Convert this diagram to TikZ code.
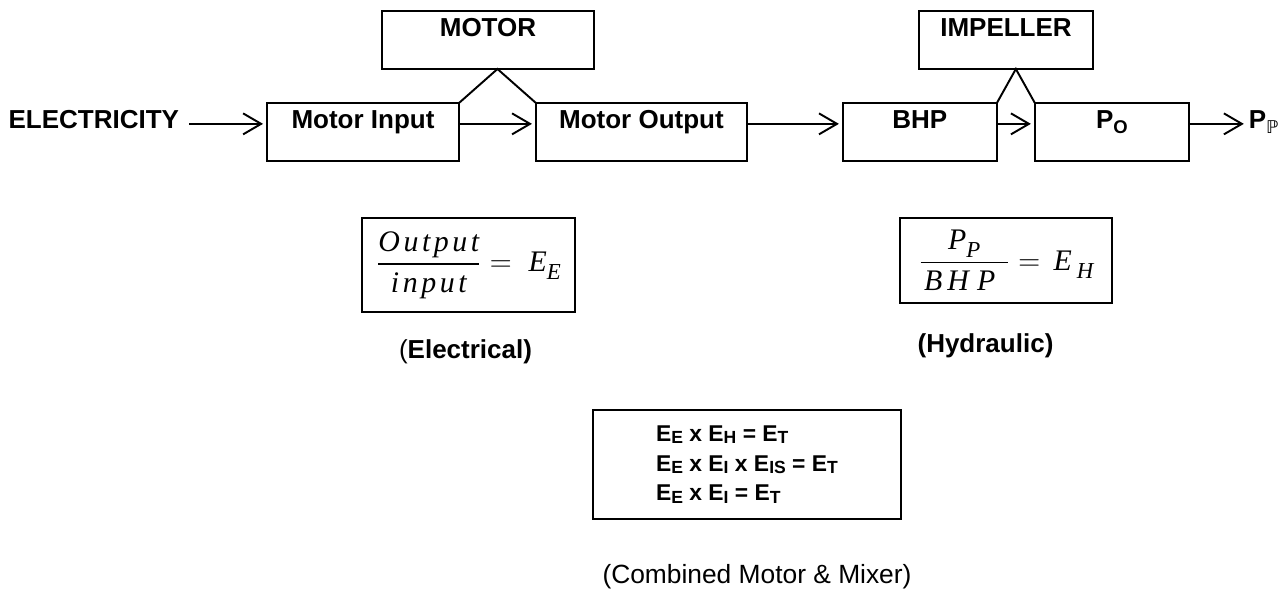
\documentclass[tikz,border=0pt]{standalone}
\usepackage{fontspec}
\setmainfont{Liberation Sans}
\newfontfamily\formfont{Liberation Serif}[LetterSpace=12]
\newfontfamily\symfont{DejaVu Sans}
\usepackage{amsmath}
\usetikzlibrary{positioning,arrows.meta}

\newcommand\lowsub[3][8]{\raisebox{-#3}{\fontsize{#1}{#1}\selectfont #2}}
\newcommand\formit[1]{\text{\formfont\itshape #1}}
\newcommand\formsub[1]{\raisebox{-4.5pt}{\fontsize{13}{13}\selectfont\formfont\itshape #1}}

\begin{document}
\begin{tikzpicture}[
  x=0.02cm, y=-0.02cm, line width=1.1pt,
  block/.style={
    draw, minimum height=1.16cm,
    inner sep=0pt, outer sep=0pt,
    text height=0.37cm, text depth=0.51cm, % text sits in the upper part of the box
    font=\bfseries\fontsize{14.8}{17}\selectfont
  },
  tag/.style={font=\bfseries\fontsize{14.8}{17}\selectfont, inner sep=0pt},
  formula/.style={draw, inner sep=0pt, font=\fontsize{17}{20}\selectfont},
  flow/.style={-{Straight Barb[length=0.36cm,width=0.42cm]}, shorten >=0.08cm}
]
\useasboundingbox (0,0) rectangle (1279,589);

% --- Chain ---
\node[block, minimum width=3.84cm] (mi) at (363,132) {Motor Input};
\node[block, minimum width=4.22cm, right=1.54cm of mi] (mo) {Motor Output};
\node[block, minimum width=3.08cm, right=1.92cm of mo] (bhp) {BHP};
\node[block, minimum width=3.08cm, right=0.76cm of bhp] (po) {P\lowsub[10.5]{O}{2.8pt}};

\node[block, minimum width=4.24cm] (motor) at (488,40) {MOTOR};
\node[block, minimum width=3.48cm] (imp) at (1006,40) {IMPELLER};

\node[tag, left=1.74cm of mi.mid west, anchor=mid east] (elec) {ELECTRICITY};
\node[tag, right=1.18cm of po.mid east, anchor=mid west] (pp) {P\lowsub[10]{\symfont\mdseries ℙ}{2.8pt}};

\draw[flow, shorten <=0.18cm] (elec.mid east) -- (mi.mid west);
\draw[flow] (mi.mid east) -- (mo.mid west);
\draw[flow] (mo.mid east) -- (bhp.mid west);
\draw[flow] (bhp.mid east) -- (po.mid west);
\draw[flow] (po.mid east) -- (pp.mid west);

% --- Links up to motor and impeller ---
\path (mi.north east) -- (mo.north west) coordinate[midway] (mgap);
\draw (mi.north east) -- (mgap |- motor.south) -- (mo.north west);
\path (bhp.north east) -- (po.north west) coordinate[midway] (igap);
\draw (bhp.north east) -- (igap |- imp.south) -- (po.north west);

% --- Efficiencies ---
\node[formula, minimum width=4.26cm, minimum height=1.88cm] (fe) at (468.5,265)
  {$\dfrac{\formit{Output}}{\formit{input}} =\; \formit{E}\formsub{E}$};
\node[formula, minimum width=4.24cm, minimum height=1.7cm] (fh) at (1006,260.5)
  {$\dfrac{\formit{P}\formsub{P}}{\hspace{2pt}\formit{B\,H\;P}\hspace{7pt}} =\, \formit{E}\,\formsub{H}$};

\node[tag] (fecap) at (465.5,352) {{\mdseries(}Electrical)};
\node[tag] (fhcap) at (985.5,346) {(Hydraulic)};

% --- Combined ---
\node[draw, minimum width=6.16cm, minimum height=2.18cm, inner sep=0pt,
  align=left, font=\bfseries\fontsize{13}{17}\selectfont] (comb) at (747,464.5)
  {E\lowsub[10]{E}{1.5pt} x E\lowsub[10]{H}{1.5pt} = E\lowsub[10]{T}{1.5pt}\\
   E\lowsub[10]{E}{1.5pt} x E\lowsub[10]{I}{1.5pt} x E\lowsub[10]{IS}{1.5pt} = E\lowsub[10]{T}{1.5pt}\\
   E\lowsub[10]{E}{1.5pt} x E\lowsub[10]{I}{1.5pt} = E\lowsub[10]{T}{1.5pt}};
\node[font=\fontsize{15}{18}\selectfont] (combcap) at (757,577) {(Combined Motor \& Mixer)};
\end{tikzpicture}
\end{document}
